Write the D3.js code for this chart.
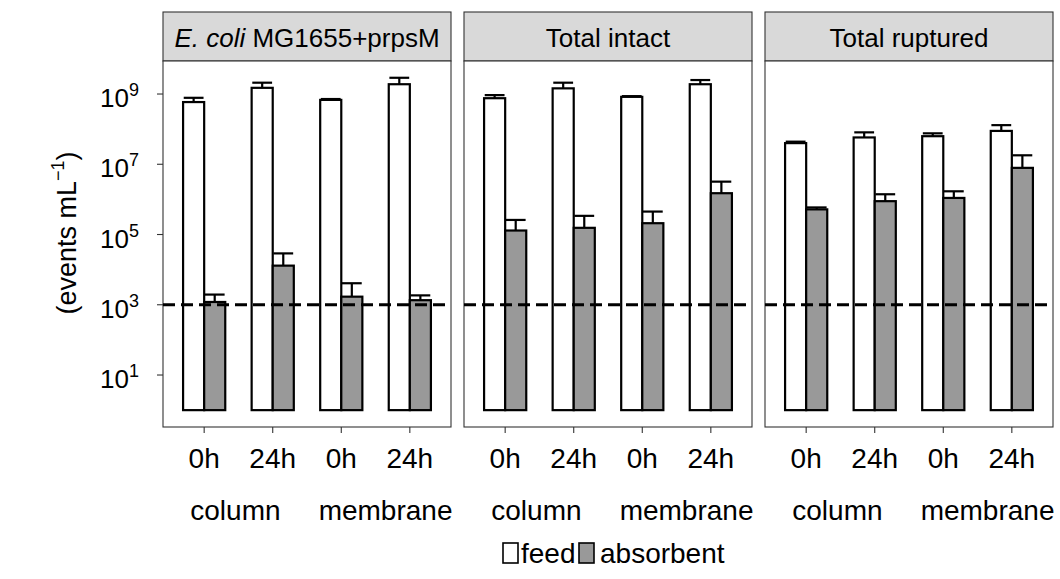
<!DOCTYPE html>
<html><head><meta charset="utf-8">
<script src="https://cdn.jsdelivr.net/npm/d3@7"></script>
<style>body{margin:0;background:#fff}svg{display:block}text{font-family:"Liberation Sans",Arial,sans-serif;fill:#000}</style>
</head><body><svg id="c" width="1060" height="579"></svg>
<script>
// ---- data ----
const panelTitles = ["MG1655+prpsM", "Total intact", "Total ruptured"];
const groups = ["col0", "col24", "mem0", "mem24"];
const tickLabels = ["0h", "24h", "0h", "24h"];
const methodLabels = ["column", "membrane"];
const series = ["feed", "absorbent"];
const yTicks = [1e1, 1e3, 1e5, 1e7, 1e9];
const threshold = 1e3;

const feedEcoli = [5.9e8, 1.5e9, 6.8e8, 1.9e9];
const feedEcoliUp = [7.8e8, 2.1e9, 7.2e8, 2.9e9];
const absEcoli = [1.2e3, 1.3e4, 1.7e3, 1.35e3];
const absEcoliUp = [1.95e3, 2.9e4, 4.1e3, 1.85e3];

const feedIntact = [7.6e8, 1.45e9, 8.3e8, 1.9e9];
const feedIntactUp = [9.3e8, 2.1e9, 8.7e8, 2.5e9];
const absIntact = [1.3e5, 1.55e5, 2.1e5, 1.5e6];
const absIntactUp = [2.6e5, 3.4e5, 4.5e5, 3.2e6];

const feedRuptured = [4.0e7, 5.8e7, 6.3e7, 8.9e7];
const feedRupturedUp = [4.4e7, 8.1e7, 7.6e7, 1.3e8];
const absRuptured = [5.2e5, 8.9e5, 1.1e6, 7.9e6];
const absRupturedUp = [5.9e5, 1.4e6, 1.7e6, 1.8e7];

const panelData = [
  {feed: feedEcoli, feedUp: feedEcoliUp, abs: absEcoli, absUp: absEcoliUp},
  {feed: feedIntact, feedUp: feedIntactUp, abs: absIntact, absUp: absIntactUp},
  {feed: feedRuptured, feedUp: feedRupturedUp, abs: absRuptured, absUp: absRupturedUp}
];

// ---- layout ----
const svg = d3.select("#c");
const panelX0 = 163, panelStep = 301, panelW = 288;
const headTop = 12, bodyTop = 61, bodyBot = 427;
const fills = {feed: "#ffffff", absorbent: "#999999"};

const y = d3.scaleLog().domain([Math.pow(10, -0.48), Math.pow(10, 9.94)]).range([bodyBot, bodyTop]);
const x = d3.scaleBand().domain(groups).range([0, panelW]).paddingInner(0.385).paddingOuter(0.293);
const xs = d3.scaleBand().domain(series).range([0, x.bandwidth()]);
const base = 1;

panelData.forEach((pd, pi) => {
  const g = svg.append("g").attr("transform", `translate(${panelX0 + pi * panelStep},0)`);
  // header strip
  g.append("rect").attr("x", 0).attr("y", headTop).attr("width", panelW).attr("height", bodyTop - headTop)
    .attr("fill", "#d9d9d9").attr("stroke", "#333").attr("stroke-width", 1.1);
  const t = g.append("text").attr("x", panelW / 2).attr("y", 47).attr("text-anchor", "middle").attr("font-size", 26);
  if (pi === 0) {
    t.append("tspan").attr("font-style", "italic").text("E. coli ");
  }
  t.append("tspan").text(panelTitles[pi]);

  // panel body
  g.append("rect").attr("x", 0).attr("y", bodyTop).attr("width", panelW).attr("height", bodyBot - bodyTop)
    .attr("fill", "#fff").attr("stroke", "#333").attr("stroke-width", 1.1);

  const rows = [];
  groups.forEach((gr, i) => {
    rows.push({g: gr, s: "feed", v: pd.feed[i], up: pd.feedUp[i]});
    rows.push({g: gr, s: "absorbent", v: pd.abs[i], up: pd.absUp[i]});
  });

  // error bars
  const eb = g.append("g").attr("stroke", "#000").attr("stroke-width", 2.2);
  rows.forEach(r => {
    const cx = x(r.g) + xs(r.s) + xs.bandwidth() / 2;
    const hw = xs.bandwidth() * 0.47;
    eb.append("line").attr("x1", cx).attr("x2", cx).attr("y1", y(r.v)).attr("y2", y(r.up));
    eb.append("line").attr("x1", cx - hw).attr("x2", cx + hw).attr("y1", y(r.up)).attr("y2", y(r.up));
  });

  // bars
  g.append("g").selectAll("rect").data(rows).join("rect")
    .attr("x", d => x(d.g) + xs(d.s))
    .attr("width", xs.bandwidth())
    .attr("y", d => y(d.v))
    .attr("height", d => y(base) - y(d.v))
    .attr("fill", d => fills[d.s]).attr("stroke", "#000").attr("stroke-width", 2.2);

  // threshold line
  g.append("line").attr("x1", 0).attr("x2", panelW).attr("y1", y(threshold)).attr("y2", y(threshold))
    .attr("stroke", "#000").attr("stroke-width", 3).attr("stroke-dasharray", "12,6");

  // x axis
  const xa = g.append("g").attr("transform", `translate(0,${bodyBot})`);
  groups.forEach((gr, i) => {
    const cx = x(gr) + x.bandwidth() / 2;
    xa.append("line").attr("x1", cx).attr("x2", cx).attr("y1", 0).attr("y2", 6).attr("stroke", "#333").attr("stroke-width", 1.1);
    xa.append("text").attr("x", cx).attr("y", 41).attr("text-anchor", "middle").attr("font-size", 28).text(tickLabels[i]);
  });
  const m0 = (x(groups[0]) + x(groups[1]) + x.bandwidth()) / 2 - 3;
  const m1 = (x(groups[2]) + x(groups[3]) + x.bandwidth()) / 2 + 10;
  xa.append("text").attr("x", m0).attr("y", 93).attr("text-anchor", "middle").attr("font-size", 28).text(methodLabels[0]);
  xa.append("text").attr("x", m1).attr("y", 93).attr("text-anchor", "middle").attr("font-size", 28).text(methodLabels[1]);
});

// y axis (first panel)
const ya = svg.append("g").attr("transform", `translate(${panelX0},0)`);
yTicks.forEach(v => {
  const yy = y(v);
  ya.append("line").attr("x1", -6).attr("x2", 0).attr("y1", yy).attr("y2", yy).attr("stroke", "#333").attr("stroke-width", 1.1);
  const tx = ya.append("text").attr("x", -24).attr("y", yy + 13).attr("text-anchor", "end").attr("font-size", 26);
  tx.append("tspan").text("10");
  tx.append("tspan").attr("font-size", 18).attr("dy", -11).text(Math.round(Math.log10(v)));
});

// y title
const yt = svg.append("text").attr("transform", "translate(76,233) rotate(-90)").attr("text-anchor", "middle").attr("font-size", 27);
yt.append("tspan").text("(events mL");
yt.append("tspan").attr("font-size", 18).attr("dy", -12).text("\u22121");
yt.append("tspan").attr("dy", 12).text(")");

// legend
const lg = svg.append("g");
const legendItems = [{s: "feed", bx: 503, tx: 521}, {s: "absorbent", bx: 579, tx: 600}];
legendItems.forEach(it => {
  lg.append("rect").attr("x", it.bx).attr("y", 543).attr("width", 15).attr("height", 20)
    .attr("fill", fills[it.s]).attr("stroke", "#000").attr("stroke-width", 1.6);
  lg.append("text").attr("x", it.tx).attr("y", 563).attr("font-size", 28).text(it.s);
});
</script></body></html>
